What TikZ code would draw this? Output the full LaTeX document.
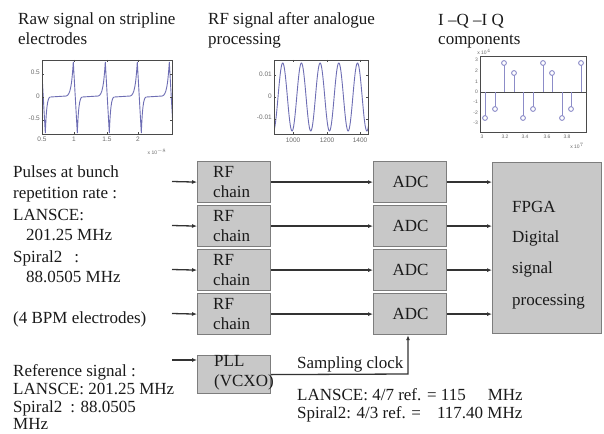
\documentclass[tikz,border=0pt]{standalone}
\usepackage{fontspec}
\setmainfont{Liberation Serif}
\newfontfamily\ticksf{Liberation Sans}
\usetikzlibrary{arrows.meta}
\definecolor{txtcol}{HTML}{1A1A1A}
\definecolor{boxfill}{HTML}{C8C8C8}
\definecolor{boxedge}{HTML}{7D7D7D}
\definecolor{linecol}{HTML}{333333}
\definecolor{tickcol}{HTML}{6A6A6A}
\definecolor{framecol}{HTML}{4A4A4A}
\definecolor{wavecol}{HTML}{6E6EB4}
\definecolor{stemcol}{HTML}{8C8CC8}
\tikzset{
  blk/.style={draw=boxedge, fill=boxfill, line width=1.2pt, minimum width=73pt, minimum height=41pt, anchor=north west, inner sep=0pt},
  txt/.style={anchor=base west, inner sep=0pt, text=txtcol, font=\fontsize{17}{21}\selectfont},
  sig/.style={draw=linecol, line width=1.3pt, -{Latex[length=5pt,width=4pt]}},
  ticklbl/.style={font=\ticksf\fontsize{6.5}{7}\selectfont, text=tickcol, inner sep=0pt},
  tinylbl/.style={font=\ticksf\fontsize{5}{6}\selectfont, text=tickcol, inner sep=0pt},
  frame/.style={draw=framecol, line width=0.9pt},
  wave/.style={draw=wavecol, line width=0.9pt},
  stem/.style={draw=stemcol, line width=0.9pt},
}
\begin{document}
\begin{tikzpicture}[x=1pt,y=-1pt]
\useasboundingbox[fill=white] (0,0) rectangle (604,433);

% ---------- titles ----------
\node[txt] (t1a) at (18,25) {Raw signal on stripline};
\node[txt] (t1b) at (18,45) {electrodes};
\node[txt] (t2a) at (208,25) {RF signal after analogue};
\node[txt] (t2b) at (208,45) {processing};
\node[txt] (t3a) at (438,26) {I --Q --I Q};
\node[txt] (t3b) at (438,45) {components};

% ---------- plot 1 ----------
\begin{scope}
\clip (42,60) rectangle (172,134);
\foreach \p in {9.3,41.3,73.3,105.3,137.3,169.3}{
  \draw[wave] (\p-23,97) -- (\p-7,96) .. controls (\p-3,95) and (\p-1.5,85) .. (\p,62)
    -- (\p+4,133) .. controls (\p+5,110) and (\p+6,97) .. (\p+9,97);
}
\end{scope}
\draw[frame] (42,60) rectangle (172,134);
\foreach \xx in {74,107,138}{\draw[frame,line width=0.5pt] (\xx,134) -- (\xx,132) (\xx,60) -- (\xx,62);}
\foreach \yy in {74,97,120}{\draw[frame,line width=0.5pt] (42,\yy) -- (44,\yy) (172,\yy) -- (170,\yy);}
\node[ticklbl, anchor=east] (p1y1) at (40,72) {0.5};
\node[ticklbl, anchor=east] (p1y2) at (40,96) {0};
\node[ticklbl, anchor=east] (p1y3) at (40,118) {-0.5};
\node[ticklbl] (p1x1) at (42,139) {0.5};
\node[ticklbl] (p1x2) at (74,139) {1};
\node[ticklbl] (p1x3) at (107,139) {1.5};
\node[ticklbl] (p1x4) at (138,139) {2};
\node[tinylbl] (p1e) at (157,152) {x 10$^{-8}$};

% ---------- plot 2 ----------
\begin{scope}
\clip (274,60) rectangle (368,134);
\draw[wave] plot[domain=272:370, samples=200] (\x,{97-34*cos(19.2513*(\x-282.7))});
\end{scope}
\draw[frame] (274,60) rectangle (368,134);
\foreach \xx in {293,327,360}{\draw[frame,line width=0.5pt] (\xx,134) -- (\xx,132) (\xx,60) -- (\xx,62);}
\foreach \yy in {75,97,119}{\draw[frame,line width=0.5pt] (274,\yy) -- (276,\yy) (368,\yy) -- (366,\yy);}
\node[ticklbl, anchor=east] (p2y1) at (272,74) {0.01};
\node[ticklbl, anchor=east] (p2y2) at (272,96) {0};
\node[ticklbl, anchor=east] (p2y3) at (272,117) {-0.01};
\node[ticklbl] (p2x1) at (293,140) {1000};
\node[ticklbl] (p2x2) at (327,140) {1200};
\node[ticklbl] (p2x3) at (360,140) {1400};

% ---------- plot 3 ----------
\draw[frame] (480,56) rectangle (586,132);
\draw[frame,line width=0.7pt] (480,92) -- (586,92);
\foreach \xx/\yy in {485/118,495/109,504/63,514/73,523/118,533/109,543/63,552/73,562/118,571/109,581/63}{
  \draw[stem] (\xx,92) -- (\xx,\yy);
  \draw[stem, fill=white] (\xx,\yy) circle (2.4);
}
\foreach \v/\yy in {3/60,2/71,1/81.5,0/92,-1/102,-2/112.5,-3/123}{
  \node[tinylbl, anchor=east] at (478,\yy) {\v};
}
\node[tinylbl] (p3e) at (484,52) {x 10$^{4}$};
\node[tinylbl] (p3x1) at (482,137) {3};
\node[tinylbl] (p3x2) at (505,137) {3.2};
\node[tinylbl] (p3x3) at (525,137) {3.4};
\node[tinylbl] (p3x4) at (547,137) {3.6};
\node[tinylbl] (p3x5) at (567,137) {3.8};
\node[tinylbl] (p3x) at (577,146) {x 10$^{7}$};

% ---------- left texts ----------
\node[txt] (l1) at (13,177) {Pulses at bunch};
\node[txt] (l2) at (13,198) {repetition rate :};
\node[txt] (l3) at (13,220) {LANSCE:};
\node[txt] (l4) at (26,240) {201.25 MHz};
\node[txt] (l5) at (13,262) {Spiral2\hspace{12pt}:};
\node[txt] (l6) at (26,282) {88.0505 MHz};
\node[txt] (l7) at (13,323) {(4 BPM electrodes)};
\node[txt] (r1) at (13,376) {Reference signal :};
\node[txt] (r2) at (13,394.5) {LANSCE: 201.25 MHz};
\node[txt] (r3) at (13,412.5) {Spiral2\hspace{8pt}: 88.0505};
\node[txt] (r4) at (13,429.5) {MHz};

% ---------- boxes ----------
\foreach \i/\yt in {1/161,2/205,3/249,4/293}{
  \node[blk] (rf\i) at (197,\yt) {};
  \node[txt] (rft\i) at (213,\yt+16) {RF};
  \node[txt] (rfc\i) at (213,\yt+36) {chain};
  \node[blk] (adc\i) at (373,\yt) {};
  \node[txt, anchor=base] (adct\i) at (410.5,\yt+26) {ADC};
  \coordinate (in\i) at (172,\yt+20.5);
}
\node[blk, minimum width=109pt, minimum height=171pt] (fpga) at (492,162) {};
\node[txt] (f1) at (512,212) {FPGA};
\node[txt] (f2) at (512,242) {Digital};
\node[txt] (f3) at (512,273) {signal};
\node[txt] (f4) at (512,305) {processing};

\node[blk, minimum height=38pt] (pll) at (197,355) {};
\node[txt] (pllt1) at (214,366) {PLL};
\node[txt] (pllt2) at (214,386) {(VCXO)};
\coordinate (pllin) at (172,360);

% ---------- connectors ----------
\foreach \i in {1,2,3,4}{
  \draw[sig] (in\i) -- (rf\i.west);
  \draw[sig] (rf\i.east) -- (adc\i.west);
  \draw[sig] (adc\i.east) -- (adc\i.east -| fpga.west);
}
\draw[sig] (pllin) -- (pllin -| pll.west);
\coordinate (clkc) at (408,374);
\draw[sig] (pll.east) -- (clkc) -- (clkc |- adc4.south);

\node[txt] (sc) at (297,368) {Sampling clock};
\node[txt] (sc1) at (297,400) {LANSCE: 4/7 ref. = 115\hspace{22pt}MHz};
\node[txt] (sc2) at (297,418) {Spiral2: 4/3 ref. =\hspace{16pt}117.40 MHz};
\end{tikzpicture}
\end{document}
